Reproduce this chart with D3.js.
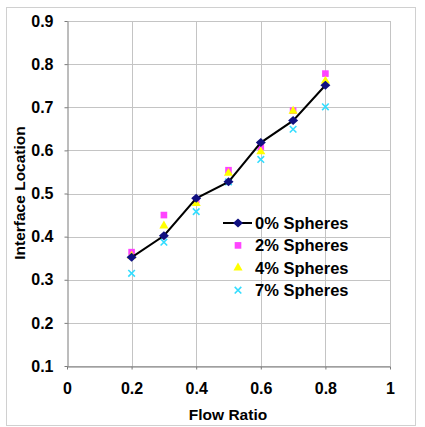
<!DOCTYPE html>
<html>
<head>
<meta charset="utf-8">
<script src="https://cdn.jsdelivr.net/npm/d3@7"></script>
<style>
  body { margin: 0; background: #fff; }
  text { font-family: "Liberation Sans", Arial, sans-serif; font-weight: bold; fill: #000; }
</style>
</head>
<body>
<svg id="chart" width="425" height="427"></svg>
<script>
// flow ratio on the x axis
var flowRatio = [0.2, 0.3, 0.4, 0.5, 0.6, 0.7, 0.8];
// interface location for each sphere loading
var spheres0 = [0.352, 0.402, 0.489, 0.527, 0.618, 0.669, 0.751];
var spheres2 = [0.364, 0.450, 0.485, 0.554, 0.608, 0.692, 0.778];
var spheres4 = [0.355, 0.425, 0.477, 0.547, 0.597, 0.691, 0.761];
var spheres7 = [0.315, 0.387, 0.458, 0.527, 0.579, 0.649, 0.701];
var seriesNames = ["0% Spheres", "2% Spheres", "4% Spheres", "7% Spheres"];
var xTicks = [0, 0.2, 0.4, 0.6, 0.8, 1];
var yTicks = [0.1, 0.2, 0.3, 0.4, 0.5, 0.6, 0.7, 0.8, 0.9];

var svg = d3.select("#chart");

// outer frame of the picture
svg.append("rect")
  .attr("x", 6.5).attr("y", 7.5)
  .attr("width", 409).attr("height", 418)
  .attr("fill", "#fff")
  .attr("stroke", "#d0d0d0");

var x = d3.scaleLinear().domain([0, 1]).range([67, 390]);
var y = d3.scaleLinear().domain([0.1, 0.9]).range([366, 21]);

// grid
svg.append("g").selectAll("line").data(yTicks).enter().append("line")
  .attr("x1", x(0)).attr("x2", x(1))
  .attr("y1", function(d) { return Math.round(y(d)) + 0.5; })
  .attr("y2", function(d) { return Math.round(y(d)) + 0.5; })
  .attr("stroke", "#c4c4c4");
svg.append("g").selectAll("line").data(xTicks.slice(1)).enter().append("line")
  .attr("y1", y(0.1)).attr("y2", y(0.9))
  .attr("x1", function(d) { return Math.round(x(d)) + 0.5; })
  .attr("x2", function(d) { return Math.round(x(d)) + 0.5; })
  .attr("stroke", "#c4c4c4");

// axes
var xAxis = d3.axisBottom(x).tickValues(xTicks)
  .tickFormat(function(d) { return d === 0 || d === 1 ? d : d3.format(".1f")(d); })
  .tickSize(3).tickSizeOuter(0).tickPadding(13);
var gx = svg.append("g")
  .attr("transform", "translate(0," + (Math.round(y(0.1)) + 0.5) + ")")
  .call(xAxis);
var yAxis = d3.axisLeft(y).tickValues(yTicks).tickFormat(d3.format(".1f"))
  .tickSize(3).tickSizeOuter(0).tickPadding(11);
var gy = svg.append("g")
  .attr("transform", "translate(" + (Math.round(x(0)) + 0.5) + ",0)")
  .call(yAxis);
[gx, gy].forEach(function(g) {
  g.select(".domain").attr("stroke", "#7a7a7a");
  g.selectAll(".tick line").attr("stroke", "#7a7a7a");
  g.selectAll("text")
    .style("font-family", "'Liberation Sans', Arial, sans-serif")
    .style("font-weight", "bold")
    .style("font-size", "16px")
    .attr("fill", "#000");
});

// axis titles
svg.append("text")
  .attr("x", 228).attr("y", 420)
  .attr("text-anchor", "middle")
  .style("font-size", "15.5px")
  .text("Flow Ratio");
svg.append("text")
  .attr("transform", "translate(25,193) rotate(-90)")
  .attr("text-anchor", "middle")
  .style("font-size", "15.5px")
  .text("Interface Location");

// markers
var diamond = "M0,-4.5L5,0L0,4.5L-5,0Z";
var square = d3.symbol().type(d3.symbolSquare).size(44);
var triangle = d3.symbol().type(d3.symbolTriangle).size(36);
var cross = d3.symbol().type(d3.symbolX).size(30);

function pts(vals) {
  return flowRatio.map(function(f, i) { return [f, vals[i]]; });
}

function drawPoints(vals, sym, fill, stroke) {
  svg.append("g").selectAll("path").data(pts(vals)).enter().append("path")
    .attr("transform", function(d) { return "translate(" + x(d[0]) + "," + y(d[1]) + ")"; })
    .attr("d", sym)
    .attr("fill", fill)
    .attr("stroke", stroke)
    .attr("stroke-width", stroke === "none" ? 0 : 1.6);
}

drawPoints(spheres7, cross, "none", "#33ddff");
drawPoints(spheres2, square, "#ff44ff", "none");
drawPoints(spheres4, triangle, "#ffff00", "none");

var line = d3.line()
  .x(function(d) { return x(d[0]); })
  .y(function(d) { return y(d[1]); });
svg.append("path")
  .attr("d", line(pts(spheres0)))
  .attr("fill", "none")
  .attr("stroke", "#000")
  .attr("stroke-width", 2);
drawPoints(spheres0, diamond, "#101080", "none");

// legend
var legendRows = [
  { sym: diamond, fill: "#101080", stroke: "none", line: true },
  { sym: square, fill: "#ff44ff", stroke: "none" },
  { sym: triangle, fill: "#ffff00", stroke: "none" },
  { sym: cross, fill: "none", stroke: "#33ddff" }
];
var lg = svg.append("g").attr("transform", "translate(223,223)");
legendRows.forEach(function(r, i) {
  var row = lg.append("g").attr("transform", "translate(0," + (i * 22.4) + ")");
  if (r.line) {
    row.append("line").attr("x1", 0).attr("x2", 29).attr("y1", 0).attr("y2", 0)
      .attr("stroke", "#000").attr("stroke-width", 2);
  }
  row.append("path")
    .attr("transform", "translate(15,0)")
    .attr("d", r.sym)
    .attr("fill", r.fill)
    .attr("stroke", r.stroke)
    .attr("stroke-width", r.stroke === "none" ? 0 : 1.6);
  row.append("text")
    .attr("x", 32).attr("y", 6)
    .style("font-size", "16.5px")
    .text(seriesNames[i]);
});
</script>
</body>
</html>
